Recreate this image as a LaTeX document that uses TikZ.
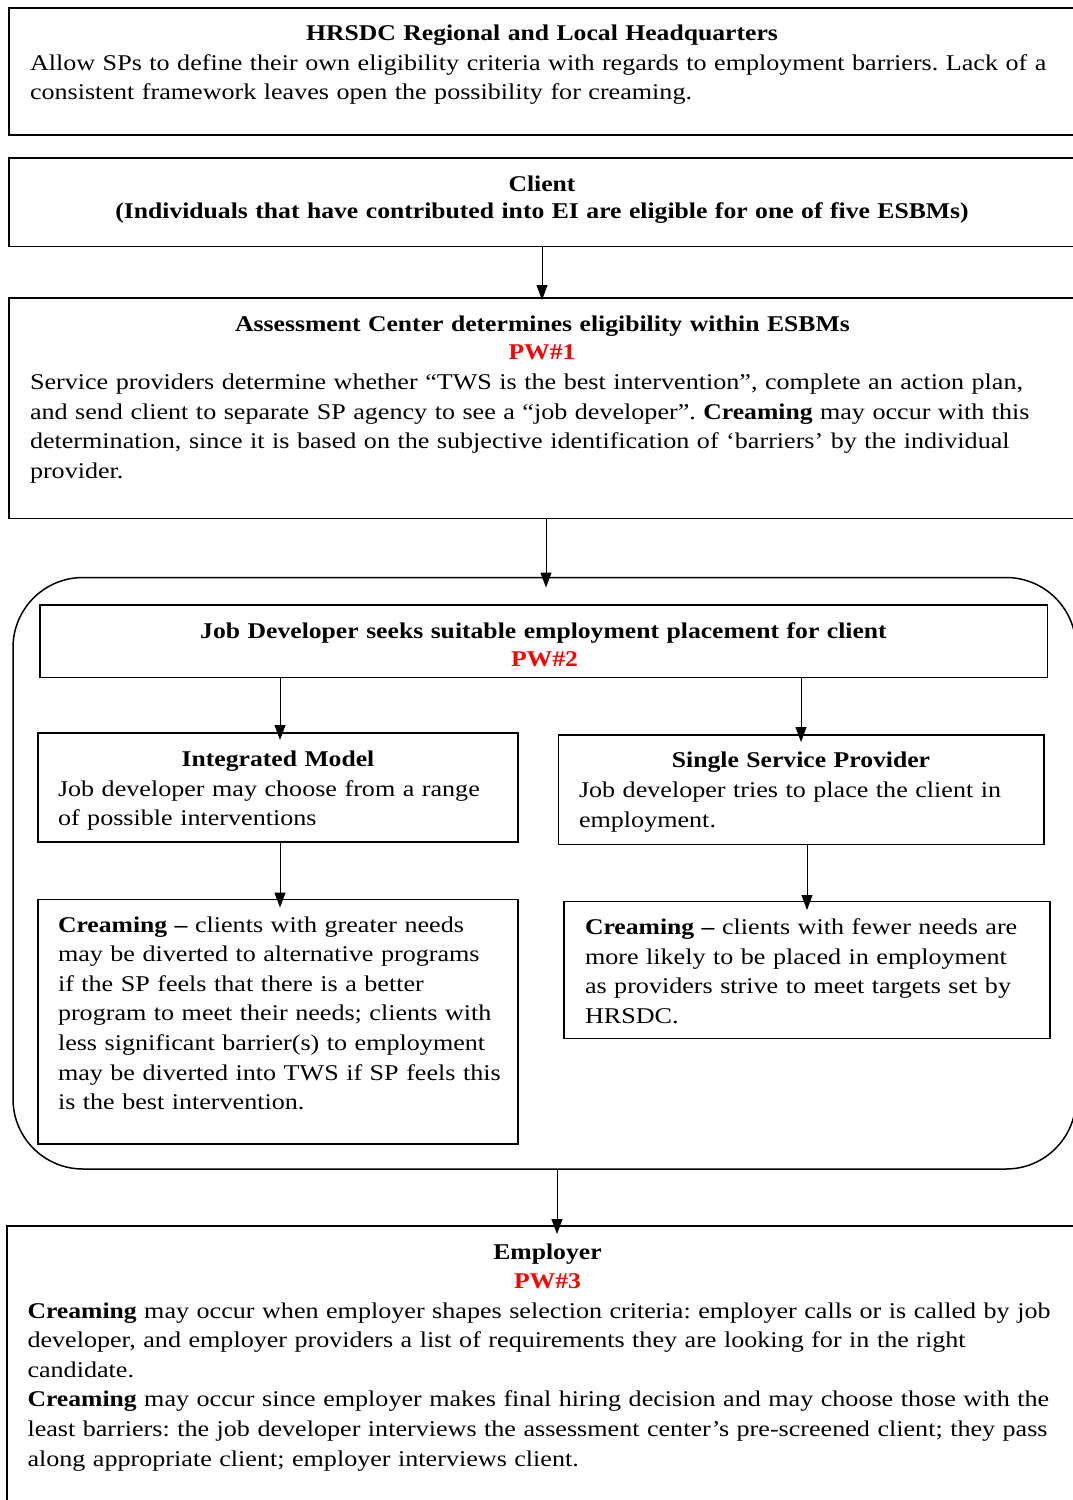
\documentclass[tikz,border=0pt]{standalone}
\usepackage{fontspec}
\setmainfont{Liberation Serif}[FakeStretch=1.16,BoldFeatures={FakeStretch=1.14}]
\usetikzlibrary{arrows.meta,fit}
\definecolor{pwred}{RGB}{255,0,0}
\newcommand\fs{\fontsize{22.5}{29.6}\selectfont\frenchspacing}
\tikzset{
  box/.style={draw, line width=1.8pt, inner sep=0pt, outer sep=0pt},
  grpbox/.style={draw, line width=1.5pt, rounded corners=70pt, inner sep=0pt, outer sep=0pt},
  txt/.style={anchor=base west, inner sep=0pt, outer sep=0pt, text width=1080pt, align=left, font=\fs},
  ttl/.style={anchor=base, inner sep=0pt, outer sep=0pt, text width=1000pt, align=center, font=\fs\bfseries},
  pwtxt/.style={ttl, text=pwred},
  arr/.style={-{Triangle[length=15pt,width=11pt]}, line width=1pt},
}
\begin{document}
\begin{tikzpicture}[x=1pt,y=-1pt]
\useasboundingbox (0,0) rectangle (1073,1500);
\clip (0,0) rectangle (1073,1500);
\fill[white] (0,0) rectangle (1073,1500);

% boxes
\node[box, fit={(9,8) (1085,135)}] (hq) {};
\node[box, fit={(9,158) (1075,246.5)}] (client) {};
\node[box, fit={(9,298) (1085,518.5)}] (assess) {};
\node[grpbox, fit={(13,577.5) (1076,1169)}] (grp) {};
\node[box, fit={(40,605) (1047.5,677.5)}] (jd) {};
\node[box, fit={(38,733) (518,842)}] (integ) {};
\node[box, fit={(558.5,735) (1044,844.5)}] (ssp) {};
\node[box, fit={(38,899.5) (518,1144)}] (creamL) {};
\node[box, fit={(564,901.5) (1050,1038.5)}] (creamR) {};
\node[box, fit={(7,1226) (1090,1530)}] (empl) {};

% texts
\node[ttl] (hqT) at (542,40.5) {HRSDC Regional and Local Headquarters};
\node[txt] (hqB) at (30,70) {Allow SPs to define their own eligibility criteria with regards to employment barriers. Lack of a\\
consistent framework leaves open the possibility for creaming.};

\node[ttl] (clT) at (542,191.5) {Client};
\node[ttl] (clT2) at (542,218.5) {(Individuals that have contributed into EI are eligible for one of five ESBMs)};

\node[ttl] (asT) at (542.5,331) {Assessment Center determines eligibility within ESBMs};
\node[pwtxt] (asP) at (542,359) {PW\#1};
\node[txt] (asB) at (30,389.5) {Service providers determine whether “TWS is the best intervention”, complete an action plan,\\
and send client to separate SP agency to see a “job developer”. \textbf{Creaming} may occur with this\\
determination, since it is based on the subjective identification of ‘barriers’ by the individual\\
provider.};

\node[ttl] (jdT) at (543.5,638) {Job Developer seeks suitable employment placement for client};
\node[pwtxt] (jdP) at (544.5,666.5) {PW\#2};

\node[ttl] (inT) at (278,766.5) {Integrated Model};
\node[txt] (inB) at (58,796) {Job developer may choose from a range\\of possible interventions};

\node[ttl] (spT) at (801,767.5) {Single Service Provider};
\node[txt] (spB) at (579,797.5) {Job developer tries to place the client in\\employment.};

\node[txt] (clB) at (58,932) {\textbf{Creaming –} clients with greater needs\\
may be diverted to alternative programs\\
if the SP feels that there is a better\\
program to meet their needs; clients with\\
less significant barrier(s) to employment\\
may be diverted into TWS if SP feels this\\
is the best intervention.};

\node[txt] (crB) at (585,934.5) {\textbf{Creaming –} clients with fewer needs are\\
more likely to be placed in employment\\
as providers strive to meet targets set by\\
HRSDC.};

\node[ttl] (emT) at (547.5,1259.5) {Employer};
\node[pwtxt] (emP) at (547.5,1288) {PW\#3};
\node[txt] (emB) at (27.5,1318) {\textbf{Creaming} may occur when employer shapes selection criteria: employer calls or is called by job\\
developer, and employer providers a list of requirements they are looking for in the right\\
candidate.\\
\textbf{Creaming} may occur since employer makes final hiring decision and may choose those with the\\
least barriers: the job developer interviews the assessment center’s pre-screened client; they pass\\
along appropriate client; employer interviews client.};

% connectors
\draw[arr] (client.south -| 542,0) -- ([yshift=-2pt]assess.north -| 542,0);
\draw[arr] (assess.south -| 546,0) -- ([yshift=-10pt]grp.north -| 546,0);
\draw[arr] (jd.south -| 280,0) -- ([yshift=-7pt]integ.north -| 280,0);
\draw[arr] (jd.south -| 801,0) -- ([yshift=-7pt]ssp.north -| 801,0);
\draw[arr] (integ.south -| 280,0) -- ([yshift=-8pt]creamL.north -| 280,0);
\draw[arr] (ssp.south -| 807,0) -- ([yshift=-8.5pt]creamR.north -| 807,0);
\draw[arr] (grp.south -| 557,0) -- ([yshift=-8pt]empl.north -| 557,0);
\end{tikzpicture}
\end{document}
